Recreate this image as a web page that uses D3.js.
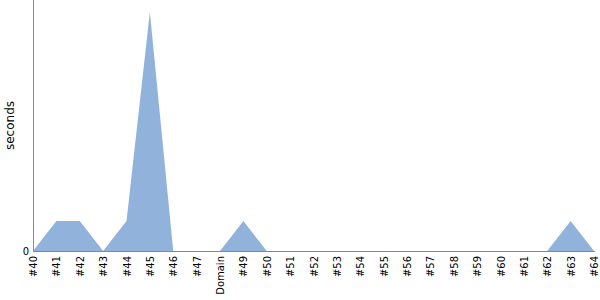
<!DOCTYPE html>
<html>
<head>
<meta charset="utf-8">
<script src="https://cdn.jsdelivr.net/npm/d3@7"></script>
<style>
  body { margin: 0; background: #fff; }
  text { font-family: "DejaVu Sans", sans-serif; }
</style>
</head>
<body>
<div id="chart"></div>
<script>
// categories along the x axis
const categories = ['#40', '#41', '#42', '#43', '#44', '#45', '#46', '#47', 'Domain', '#49',
  '#50', '#51', '#52', '#53', '#54', '#55', '#56', '#57', '#58', '#59',
  '#60', '#61', '#62', '#63', '#64'];
// seconds per category
const seconds = [0, 1, 1, 0, 1, 8, 0, 0, 0, 1,
  0, 0, 0, 0, 0, 0, 0, 0, 0, 0,
  0, 0, 0, 1, 0];
const yTicks = [0];
const yMax = 8.4;

const width = 600, height = 300;
const margin = { top: 0, right: 5, bottom: 49, left: 33 };
const innerW = width - margin.left - margin.right;
const innerH = height - margin.top - margin.bottom;

const svg = d3.select('#chart')
  .append('svg')
  .attr('width', width)
  .attr('height', height);

const g = svg.append('g')
  .attr('transform', `translate(${margin.left},${margin.top})`);

const x = d3.scalePoint()
  .domain(categories)
  .range([0, innerW - 1]);

const y = d3.scaleLinear()
  .domain([0, yMax])
  .range([innerH, 0]);

const data = categories.map((c, i) => ({ c, v: seconds[i] }));

// filled area
g.append('path')
  .datum(data)
  .attr('fill', '#91b3db')
  .attr('d', d3.area()
    .x(d => x(d.c))
    .y0(y(0))
    .y1(d => y(d.v)));

// x axis
const xAxis = g.append('g')
  .attr('transform', `translate(0,${innerH})`)
  .call(d3.axisBottom(x).tickSize(0).tickPadding(0));
xAxis.select('.domain').attr('stroke', '#888').attr('d', `M0,0.5H${innerW}`);
xAxis.selectAll('text')
  .attr('font-size', 10)
  .attr('fill', '#000')
  .attr('transform', 'rotate(-90)')
  .attr('text-anchor', 'end')
  .attr('x', -5)
  .attr('y', 0)
  .attr('dy', '0.35em');

// y axis
const yAxis = g.append('g')
  .call(d3.axisLeft(y).tickValues(yTicks).tickSize(0).tickPadding(4));
yAxis.select('.domain').attr('stroke', '#888').attr('d', `M0.5,0V${innerH}`);
yAxis.selectAll('text').attr('font-size', 10).attr('fill', '#000');

// y axis title
svg.append('text')
  .attr('transform', `translate(14,${innerH / 2}) rotate(-90)`)
  .attr('text-anchor', 'middle')
  .attr('font-size', 12)
  .attr('fill', '#000')
  .text('seconds');
</script>
</body>
</html>
